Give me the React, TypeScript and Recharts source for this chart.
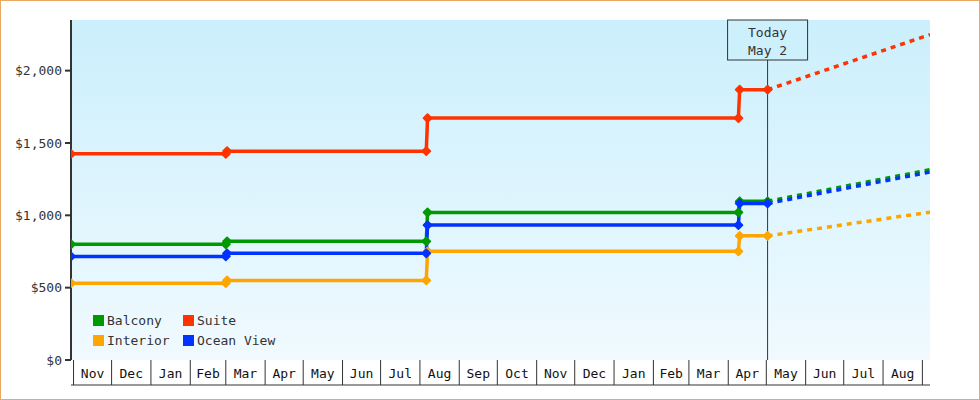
import React from 'react';
import { LineChart, Line, XAxis, YAxis, CartesianGrid, ReferenceLine } from 'recharts';

// ---------- data ----------
const domainStart = '2016-10-30';
const domainEnd = '2018-09-07';
const todayDate = '2018-05-02';
const todayLabel = ['Today', 'May 2'];

const priceDates = ['2016-10-30', '2017-03-01', '2017-03-02', '2017-08-06', '2017-08-07', '2018-04-09', '2018-04-10', '2018-05-02'];
const balconyPrices = [800, 800, 820, 820, 1020, 1020, 1097, 1097];
const suitePrices = [1425, 1425, 1443, 1443, 1672, 1672, 1868, 1868];
const interiorPrices = [531, 531, 550, 550, 751, 751, 858, 858];
const oceanViewPrices = [716, 716, 737, 737, 933, 933, 1082, 1082];

const forecastDates = ['2018-05-02', '2018-09-07'];
const balconyForecast = [1097, 1315];
const suiteForecast = [1868, 2249];
const interiorForecast = [858, 1022];
const oceanViewForecast = [1082, 1299];

const monthStarts = [
  '2016-11-01', '2016-12-01', '2017-01-01', '2017-02-01', '2017-03-01', '2017-04-01', '2017-05-01',
  '2017-06-01', '2017-07-01', '2017-08-01', '2017-09-01', '2017-10-01', '2017-11-01', '2017-12-01',
  '2018-01-01', '2018-02-01', '2018-03-01', '2018-04-01', '2018-05-01', '2018-06-01', '2018-07-01',
  '2018-08-01', '2018-09-01',
];
const monthLabels = ['Nov', 'Dec', 'Jan', 'Feb', 'Mar', 'Apr', 'May', 'Jun', 'Jul', 'Aug', 'Sep', 'Oct',
  'Nov', 'Dec', 'Jan', 'Feb', 'Mar', 'Apr', 'May', 'Jun', 'Jul', 'Aug'];

const yTicks = [0, 500, 1000, 1500, 2000];
const yMax = 2350;

const seriesNames = ['Balcony', 'Suite', 'Interior', 'Ocean View'];
const seriesColors = ['#009900', '#ff3300', '#ffa500', '#0033ff'];

// ---------- helpers ----------
const toDay = (s: string) => {
  const [y, m, d] = s.split('-').map(Number);
  return Date.UTC(y, m - 1, d) / 86400000;
};

const build = (dates: string[], vals: number[]) => dates.map((d, i) => ({ t: toDay(d), v: vals[i] }));

const solidSeries = [
  build(priceDates, balconyPrices),
  build(priceDates, suitePrices),
  build(priceDates, interiorPrices),
  build(priceDates, oceanViewPrices),
];
const forecastSeries = [
  build(forecastDates, balconyForecast),
  build(forecastDates, suiteForecast),
  build(forecastDates, interiorForecast),
  build(forecastDates, oceanViewForecast),
];

const boundaryDays = monthStarts.map(toDay);
const midDays = monthLabels.map((_, i) => (boundaryDays[i] + boundaryDays[i + 1]) / 2);
const labelByMid = new Map<number, string>();
midDays.forEach((m, i) => labelByMid.set(m, monthLabels[i]));
const boundarySet = new Set(boundaryDays);
const xTicks = [...boundaryDays, ...midDays].sort((a, b) => a - b);

const FONT = '"DejaVu Sans Mono", monospace';

const MonthTick = (props: any) => {
  const { x, y, payload } = props;
  const v = payload.value;
  if (boundarySet.has(v)) {
    return <line x1={x} x2={x} y1={y} y2={y + 25} stroke="#333" strokeWidth={1} />;
  }
  const label = labelByMid.get(v);
  if (!label) return null;
  return (
    <text x={x} y={y + 18} textAnchor="middle" fontFamily={FONT} fontSize={13} fill="#111">
      {label}
    </text>
  );
};

const makeDot = (color: string) => (props: any) => {
  const { cx, cy, index } = props;
  if (cx == null || cy == null) return <g key={index} />;
  const r = 4;
  return (
    <path
      key={index}
      d={`M${cx},${cy - r} L${cx + r},${cy} L${cx},${cy + r} L${cx - r},${cy} Z`}
      fill={color}
      stroke={color}
      strokeWidth={1.8}
      strokeLinejoin="round"
    />
  );
};

const TodayLabel = (props: any) => {
  const vb = props.viewBox || {};
  const x = vb.x;
  const y = vb.y;
  return (
    <g>
      <rect x={x - 40} y={y} width={80} height={40} fill="#cdf0fd" stroke="#333" strokeWidth={1} />
      <text x={x} y={y + 17} textAnchor="middle" fontFamily={FONT} fontSize={13} fill="#333">
        {todayLabel[0]}
      </text>
      <text x={x} y={y + 35} textAnchor="middle" fontFamily={FONT} fontSize={13} fill="#333">
        {todayLabel[1]}
      </text>
    </g>
  );
};

const legendOrder = [[0, 1], [2, 3]];

export default function App() {
  const xDomain = [toDay(domainStart), toDay(domainEnd)];
  return (
    <div
      style={{
        position: 'absolute',
        left: 0,
        top: 0,
        width: 980,
        height: 400,
        boxSizing: 'border-box',
        border: '1px solid #e9a960',
        background: '#fff',
      }}
    >
      <style>{`body{margin:0}`}</style>
      <div style={{ position: 'absolute', left: -1, top: -1 }}>
        <LineChart width={980} height={400} margin={{ top: 20, right: 50, bottom: 0, left: 0 }}>
          <defs>
            <linearGradient id="bgGrad" x1="0" y1="0" x2="0" y2="1">
              <stop offset="0%" stopColor="#cbeffc" />
              <stop offset="100%" stopColor="#f0faff" />
            </linearGradient>
          </defs>
          <CartesianGrid fill="url(#bgGrad)" horizontal={false} vertical={false} stroke="none" />
          <XAxis
            type="number"
            dataKey="t"
            domain={xDomain}
            ticks={xTicks}
            interval={0}
            allowDataOverflow
            height={25}
            tickSize={0}
            tickMargin={0}
            axisLine={false}
            tickLine={false}
            tick={<MonthTick />}
          />
          <XAxis
            xAxisId="base"
            type="number"
            dataKey="t"
            domain={xDomain}
            height={15}
            axisLine={{ stroke: '#333', strokeWidth: 1 }}
            tick={false}
            tickLine={false}
          />
          <YAxis
            type="number"
            domain={[0, yMax]}
            ticks={yTicks}
            width={71}
            allowDataOverflow
            axisLine={{ stroke: '#333', strokeWidth: 2 }}
            tickLine={{ stroke: '#333', strokeWidth: 2 }}
            tickSize={6}
            tickMargin={3}
            tick={{ fontFamily: FONT, fontSize: 13, fill: '#333' }}
            tickFormatter={(v: number) => `$${v.toLocaleString('en-US')}`}
          />
          <ReferenceLine x={toDay(todayDate)} stroke="#333" strokeWidth={1} label={<TodayLabel />} />
          {forecastSeries.map((d, i) => (
            <Line
              key={`f${i}`}
              data={d}
              dataKey="v"
              type="linear"
              stroke={seriesColors[i]}
              strokeWidth={3.5}
              strokeDasharray="5 5"
              dot={false}
              activeDot={false}
              isAnimationActive={false}
              legendType="none"
            />
          ))}
          {solidSeries.map((d, i) => (
            <Line
              key={`s${i}`}
              data={d}
              dataKey="v"
              name={seriesNames[i]}
              type="linear"
              stroke={seriesColors[i]}
              strokeWidth={3.5}
              dot={makeDot(seriesColors[i])}
              activeDot={false}
              isAnimationActive={false}
            />
          ))}
        </LineChart>
      </div>
      {legendOrder.map((row, r) =>
        row.map((si, c) => (
          <div
            key={`${r}-${c}`}
            style={{
              position: 'absolute',
              left: (c === 0 ? 93 : 183) - 1,
              top: 310.5 + r * 20 - 1,
              height: 20,
              display: 'flex',
              alignItems: 'center',
              fontFamily: FONT,
              fontSize: 13,
              color: '#333',
              whiteSpace: 'nowrap',
            }}
          >
            <span style={{ display: 'inline-block', width: 11, height: 11, background: seriesColors[si], marginRight: 3 }} />
            <span>{seriesNames[si]}</span>
          </div>
        ))
      )}
    </div>
  );
}
